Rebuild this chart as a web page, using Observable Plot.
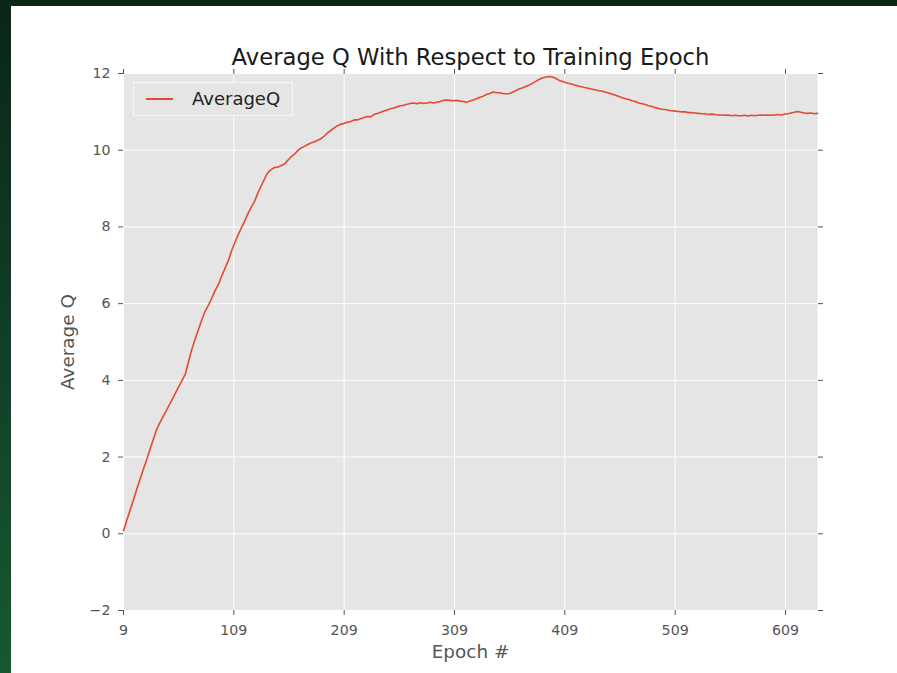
<!DOCTYPE html>
<html>
<head>
<meta charset="utf-8">
<script src="https://cdn.jsdelivr.net/npm/d3@7"></script>
<script src="https://cdn.jsdelivr.net/npm/@observablehq/plot@0.6"></script>
<style>
  html, body { margin: 0; padding: 0; }
  body { width: 897px; height: 673px; position: relative; overflow: hidden;
         background: linear-gradient(to bottom, #0a2616 0%, #12432a 60%, #165a2e 100%); font-family: "DejaVu Sans", sans-serif; }
  #panel { position: absolute; left: 11px; top: 6px; right: 0; bottom: 0; background: #ffffff; }
  #chart { position: absolute; left: 0; top: 0; }
  #legend { position: absolute; left: 133px; top: 82px; width: 158px; height: 32px;
            background: #e5e5e5; border: 1px solid #f6f6f6; }
  #legend .swatch { position: absolute; left: 12px; top: 15px; width: 27px; height: 1.6px; background: #e24a33; }
  #legend .lab { position: absolute; left: 58px; top: 4px; font-size: 18px; color: #222; line-height: 24px; }
</style>
</head>
<body>
<div id="panel"></div>
<div id="chart"></div>
<div id="legend"><div class="swatch"></div><div class="lab">AverageQ</div></div>
<script>
const titleText = "Average Q With Respect to Training Epoch";
const xLabel = "Epoch #";
const yLabel = "Average Q";
const seriesName = "AverageQ";

const xTicks = [9, 109, 209, 309, 409, 509, 609];
const yTicks = [-2, 0, 2, 4, 6, 8, 10, 12];

const epochs = [
  9, 12, 15, 18, 21, 24, 27, 30, 33, 36, 39, 42, 45, 48, 51, 54, 57, 60, 63, 65,
  68, 71, 74, 77, 80, 83, 86, 89, 92, 95, 98, 101, 104, 107, 110, 113, 116, 119, 122, 125,
  128, 131, 134, 137, 139, 141, 143, 146, 149, 152, 155, 158, 161, 164, 167, 170, 173, 176, 179, 182,
  185, 188, 191, 194, 197, 200, 203, 206, 209, 212, 215, 218, 221, 224, 227, 230, 233, 236, 239, 242,
  245, 248, 251, 254, 257, 260, 263, 266, 269, 272, 275, 278, 281, 284, 287, 290, 293, 296, 299, 302,
  305, 308, 311, 314, 317, 320, 323, 326, 329, 332, 335, 338, 341, 344, 347, 350, 353, 356, 359, 362,
  365, 368, 371, 374, 377, 380, 383, 386, 389, 392, 395, 398, 401, 404, 407, 410, 413, 416, 419, 422,
  425, 428, 431, 434, 437, 440, 443, 446, 449, 452, 455, 458, 461, 464, 467, 470, 473, 476, 479, 482,
  485, 488, 491, 494, 497, 500, 503, 506, 509, 512, 515, 518, 521, 524, 527, 530, 533, 536, 539, 542,
  545, 548, 551, 554, 557, 560, 563, 566, 569, 572, 575, 578, 581, 584, 587, 590, 593, 596, 599, 602,
  605, 608, 611, 614, 617, 620, 623, 626, 629, 632, 635, 638
];
const avgQ = [
  0.08, 0.35, 0.62, 0.88, 1.16, 1.42, 1.68, 1.93, 2.2, 2.46, 2.72, 2.9, 3.06, 3.22, 3.39, 3.55, 3.72, 3.88, 4.05, 4.16,
  4.5, 4.82, 5.08, 5.33, 5.58, 5.8, 5.96, 6.14, 6.34, 6.5, 6.72, 6.92, 7.12, 7.38, 7.6, 7.8, 7.98, 8.16, 8.36, 8.52,
  8.68, 8.9, 9.08, 9.26, 9.38, 9.45, 9.5, 9.55, 9.56, 9.6, 9.64, 9.74, 9.83, 9.9, 9.99, 10.06, 10.1, 10.15, 10.19, 10.22,
  10.26, 10.3, 10.37, 10.45, 10.52, 10.58, 10.64, 10.68, 10.7, 10.73, 10.75, 10.79, 10.79, 10.82, 10.85, 10.88, 10.87, 10.93, 10.96, 10.99,
  11.02, 11.05, 11.08, 11.1, 11.13, 11.16, 11.17, 11.2, 11.22, 11.23, 11.21, 11.24, 11.22, 11.23, 11.25, 11.23, 11.25, 11.27, 11.3, 11.31,
  11.3, 11.29, 11.3, 11.28, 11.27, 11.25, 11.28, 11.31, 11.34, 11.38, 11.41, 11.45, 11.48, 11.52, 11.5, 11.5, 11.48, 11.47, 11.48, 11.52,
  11.56, 11.6, 11.63, 11.67, 11.7, 11.75, 11.8, 11.85, 11.89, 11.91, 11.92, 11.91, 11.87, 11.82, 11.79, 11.76, 11.74, 11.72, 11.69, 11.67,
  11.65, 11.63, 11.61, 11.59, 11.57, 11.55, 11.54, 11.51, 11.49, 11.46, 11.43, 11.4, 11.37, 11.34, 11.32, 11.29, 11.27, 11.23, 11.21, 11.19,
  11.16, 11.14, 11.11, 11.09, 11.07, 11.06, 11.04, 11.03, 11.02, 11.01, 11.0, 11.0, 10.98, 10.98, 10.97, 10.96, 10.95, 10.95, 10.93, 10.94,
  10.93, 10.92, 10.92, 10.91, 10.92, 10.9, 10.91, 10.9, 10.9, 10.91, 10.89, 10.91, 10.9, 10.91, 10.92, 10.91, 10.92, 10.91, 10.92, 10.93,
  10.92, 10.94, 10.95, 10.97, 10.99, 11.01, 10.99, 10.97, 10.96, 10.97, 10.95, 10.96
];

const data = epochs.map((e, i) => ({epoch: e, q: avgQ[i]}));

const textColor = "#555555";
const fmt = d => d < 0 ? "\u2212" + Math.abs(d) : String(d);

const chart = Plot.plot({
  width: 897,
  height: 673,
  marginLeft: 123,
  marginRight: 80,
  marginTop: 73,
  marginBottom: 63,
  style: {background: "transparent", fontFamily: "DejaVu Sans, sans-serif", color: textColor},
  x: {domain: [9, 638]},
  y: {domain: [-2, 12]},
  marks: [
    Plot.frame({fill: "#e5e5e5", stroke: null}),
    Plot.gridX(xTicks, {stroke: "#ffffff", strokeOpacity: 1, strokeWidth: 1}),
    Plot.gridY(yTicks, {stroke: "#ffffff", strokeOpacity: 1, strokeWidth: 1}),
    Plot.line(data, {x: "epoch", y: "q", stroke: "#e24a33", strokeWidth: 1.6}),
    Plot.axisX(xTicks, {anchor: "bottom", tickSize: 5, tickFormat: () => "", label: null, stroke: textColor}),
    Plot.axisX(xTicks, {anchor: "top", tickSize: 5, tickFormat: () => "", label: null, stroke: textColor}),
    Plot.axisY(yTicks, {anchor: "left", tickSize: 5, tickFormat: () => "", label: null, stroke: textColor}),
    Plot.axisY(yTicks, {anchor: "right", tickSize: 5, tickFormat: () => "", label: null, stroke: textColor}),
    Plot.text(xTicks, {x: d => d, text: fmt, frameAnchor: "bottom", lineAnchor: "top", textAnchor: "middle", dy: 14, fontSize: 14.2, fill: textColor}),
    Plot.text(yTicks, {y: d => d, text: fmt, frameAnchor: "left", lineAnchor: "middle", textAnchor: "end", dx: -13, fontSize: 14.2, fill: textColor}),
    Plot.text([titleText], {frameAnchor: "top", lineAnchor: "middle", textAnchor: "middle", dy: -16, fontSize: 22.7, fill: "#1a1a1a"}),
    Plot.text([xLabel], {frameAnchor: "bottom", lineAnchor: "middle", textAnchor: "middle", dy: 42, fontSize: 18.4, fill: textColor}),
    Plot.text([yLabel], {frameAnchor: "left", lineAnchor: "middle", textAnchor: "middle", dx: -55, rotate: -90, fontSize: 18.4, fill: textColor})
  ]
});
document.getElementById("chart").appendChild(chart);
</script>
</body>
</html>
